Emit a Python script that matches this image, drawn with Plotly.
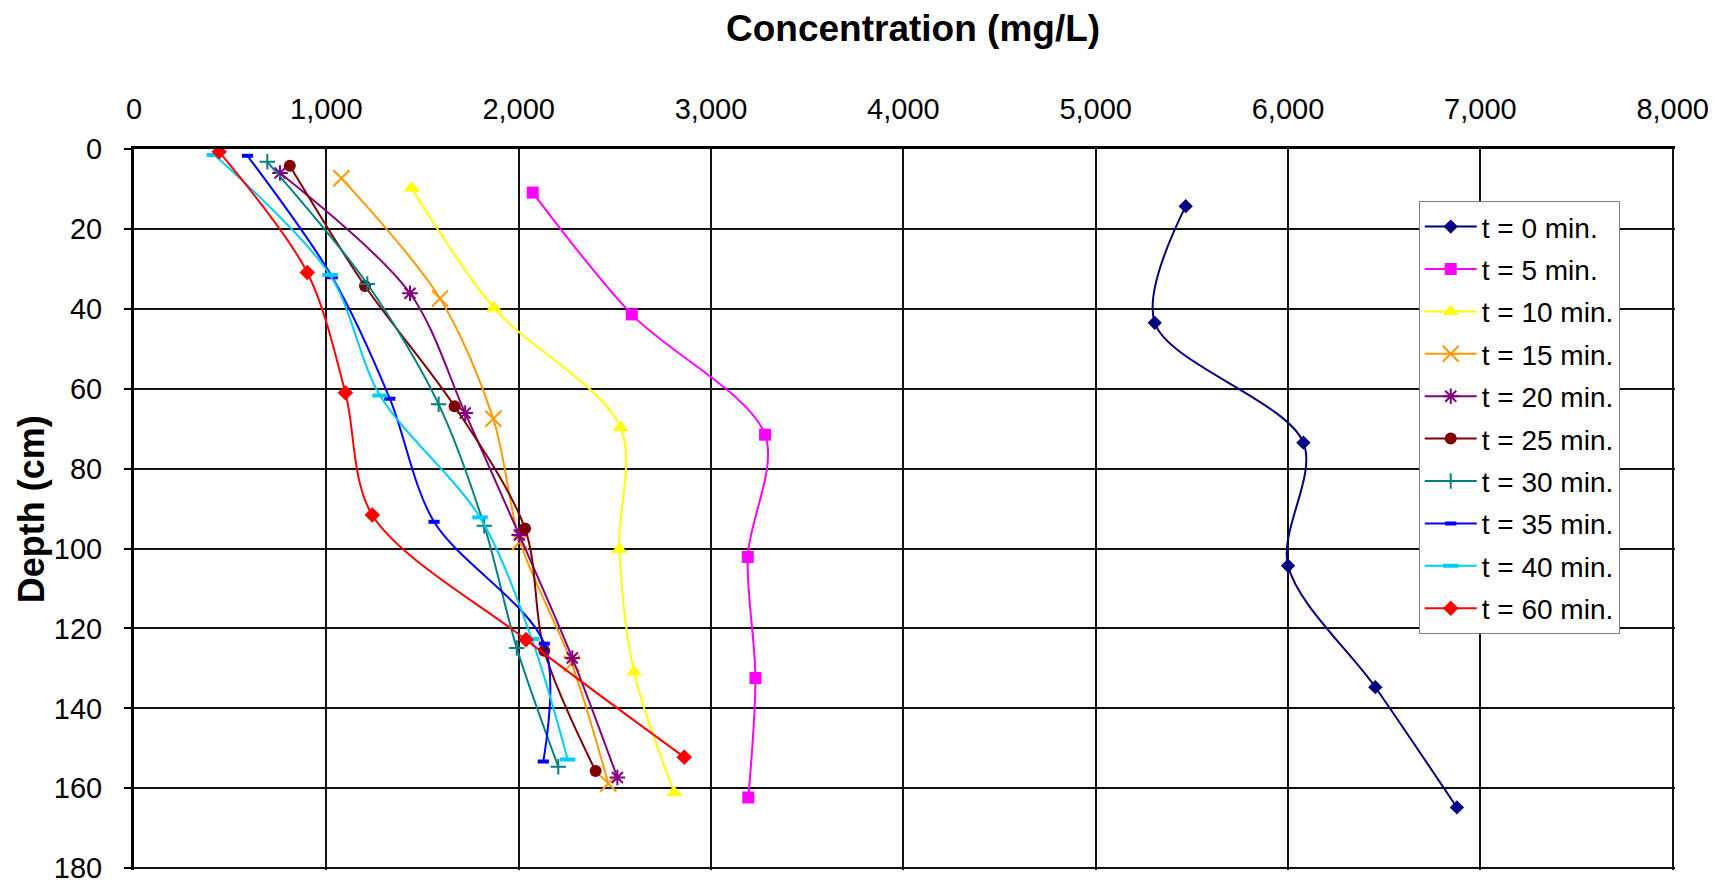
import plotly.graph_objects as go

# ---- data (concentration mg/L, depth cm) ----
labels = ["t = 0 min.", "t = 5 min.", "t = 10 min.", "t = 15 min.", "t = 20 min.",
          "t = 25 min.", "t = 30 min.", "t = 35 min.", "t = 40 min.", "t = 60 min."]

conc_t0 = [5468, 5307, 6080, 6000, 6454, 6878]
depth_t0 = [14.3, 43.5, 73.5, 104.3, 134.7, 164.8]

conc_t5 = [2073, 2588, 3281, 3191, 3231, 3194]
depth_t5 = [10.9, 41.4, 71.5, 102.1, 132.4, 162.3]

conc_t10 = [1444, 1872, 2530, 2523, 2600, 2809]
depth_t10 = [9.8, 39.8, 69.7, 100.2, 130.9, 161.1]

conc_t15 = [1078, 1591, 1868, 2007, 2276, 2466]
depth_t15 = [7.3, 37.4, 67.5, 98.3, 128.8, 158.8]

conc_t20 = [759, 1435, 1722, 2003, 2279, 2513]
depth_t20 = [6.0, 36.1, 66.1, 96.6, 127.4, 157.3]

conc_t25 = [810, 1201, 1667, 2033, 2133, 2400]
depth_t25 = [4.2, 34.3, 64.4, 95.0, 125.6, 155.7]

conc_t30 = [693, 1213, 1584, 1821, 1990, 2206]
depth_t30 = [3.2, 33.8, 63.9, 94.3, 124.9, 154.6]

conc_t35 = [590, 1031, 1330, 1560, 2133, 2128]
depth_t35 = [1.7, 32.1, 62.5, 93.3, 123.8, 153.3]

conc_t40 = [418, 1019, 1279, 1799, 2068, 2255]
depth_t40 = [1.5, 31.5, 61.7, 92.2, 122.6, 152.8]

conc_t60 = [443, 901, 1099, 1239, 2038, 2861]
depth_t60 = [0.7, 30.9, 61.0, 91.6, 122.8, 152.2]

x_ticks = [0, 1000, 2000, 3000, 4000, 5000, 6000, 7000, 8000]
y_ticks = [0, 20, 40, 60, 80, 100, 120, 140, 160, 180]

all_conc = [conc_t0, conc_t5, conc_t10, conc_t15, conc_t20,
            conc_t25, conc_t30, conc_t35, conc_t40, conc_t60]
all_depth = [depth_t0, depth_t5, depth_t10, depth_t15, depth_t20,
             depth_t25, depth_t30, depth_t35, depth_t40, depth_t60]

# ---- styles ----
styles = [
    dict(color="#000080", symbol="diamond", size=11, lw=0),
    dict(color="#FF00FF", symbol="square", size=12, lw=0),
    dict(color="#FFFF00", symbol="triangle-up", size=14, lw=0),
    dict(color="#FF9900", symbol="x-thin-open", size=16, lw=2),
    dict(color="#800080", symbol="asterisk-open", size=13, lw=2),
    dict(color="#800000", symbol="circle", size=12, lw=0),
    dict(color="#008080", symbol="cross-thin-open", size=11, lw=2),
    dict(color="#0000FF", symbol="line-ew-open", size=8, lw=4),
    dict(color="#00CCFF", symbol="line-ew-open", size=11, lw=4),
    dict(color="#FF0000", symbol="diamond", size=12, lw=0),
]

FONT = "Liberation Sans, Arial, sans-serif"

fig = go.Figure()
for i, (name, cx, dy, st) in enumerate(zip(labels, all_conc, all_depth, styles)):
    fig.add_trace(go.Scatter(
        x=cx, y=dy, name=name, mode="lines+markers",
        legendgroup=f"g{i}",
        line=dict(color=st["color"], width=2, shape="spline", smoothing=0.9),
        marker=dict(symbol=st["symbol"], size=st["size"], color=st["color"],
                    line=dict(color=st["color"], width=st["lw"])),
    ))

fig.update_layout(
    width=1723, height=883,
    margin=dict(l=134, r=48, t=149, b=13),
    paper_bgcolor="white", plot_bgcolor="white",
    font=dict(family=FONT, color="black", size=29),
    showlegend=True,
    legend=dict(
        x=0.8337, y=0.928, xanchor="left", yanchor="top",
        bgcolor="white", bordercolor="#808080", borderwidth=1,
        font=dict(family=FONT, size=28, color="black"),
        itemwidth=52, tracegroupgap=3,
    ),
    xaxis=dict(
        side="top", range=[0, 8012], tickvals=x_ticks, tickformat=",d",
        showgrid=True, gridcolor="#111111", gridwidth=1.6,
        showline=True, linecolor="black", linewidth=3,
        ticks="", ticklabelstandoff=15, zeroline=False,
        ticklabeloverflow="allow", automargin=False,
        tickfont=dict(family=FONT, size=29, color="black"),
    ),
    yaxis=dict(
        range=[180.45, 0], tickvals=y_ticks,
        showgrid=True, gridcolor="#111111", gridwidth=1.6,
        showline=True, linecolor="black", linewidth=3,
        ticks="outside", ticklen=7, tickwidth=2, tickcolor="black",
        ticklabelstandoff=16, zeroline=False,
        ticklabeloverflow="allow", automargin=False,
        tickfont=dict(family=FONT, size=29, color="black"),
    ),
    annotations=[
        dict(text="<b>Concentration (mg/L)</b>", xref="paper", yref="paper",
             x=0.5055, y=1.167, xanchor="center", yanchor="middle", showarrow=False,
             font=dict(family=FONT, size=37, color="black")),
        dict(text="<b>Depth (cm)</b>", xref="paper", yref="paper",
             x=-0.0663, y=0.5, xanchor="center", yanchor="middle", showarrow=False,
             textangle=-90, font=dict(family=FONT, size=36, color="black")),
    ],
)

fig.write_html("out.html")
